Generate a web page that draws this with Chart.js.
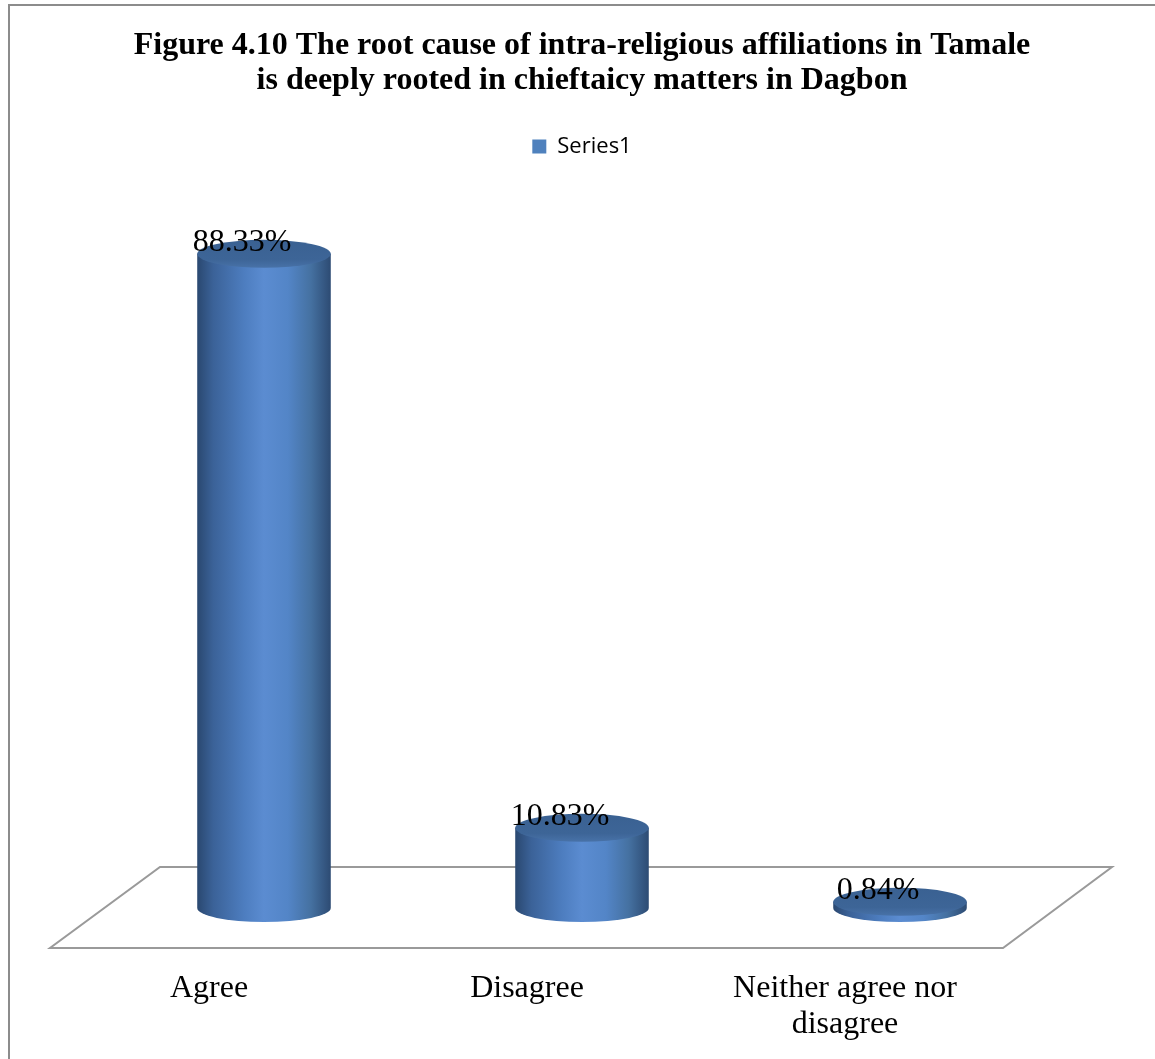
<!DOCTYPE html>
<html>
<head>
<meta charset="utf-8">
<script src="https://cdn.jsdelivr.net/npm/chart.js@4.4.1/dist/chart.umd.min.js"></script>
<style>
  html, body { margin: 0; padding: 0; background: #ffffff; }
  #wrap { position: relative; width: 1155px; height: 1059px; }
</style>
</head>
<body>
<div id="wrap"><canvas id="chart"></canvas></div>
<script>
// Survey responses (percent of respondents)
const categories = ['Agree', 'Disagree', ['Neither agree nor', 'disagree']];
const seriesName = 'Series1';
const values = [88.33, 10.83, 0.84];
const valueLabels = ['88.33%', '10.83%', '0.84%'];
const titleLines = [
  'Figure 4.10 The root cause of intra-religious affiliations in Tamale',
  'is deeply rooted in chieftaicy matters in Dagbon'
];

const SERIF = '"Liberation Serif", "Times New Roman", serif';
const FLOOR_DEPTH = 41;   // half depth of the floor plane in px
const FLOOR_SKEW = 55;    // horizontal shift between back and front edges
const X_AXIS_HEIGHT = 151;

// outer frame of the figure
const framePlugin = {
  id: 'frame',
  beforeDraw(chart) {
    const ctx = chart.ctx;
    ctx.save();
    ctx.fillStyle = '#ffffff';
    ctx.fillRect(0, 0, chart.width, chart.height);
    ctx.strokeStyle = '#8c8c8c';
    ctx.lineWidth = 2;
    ctx.strokeRect(9, 5, chart.width + 50, chart.height + 50);
    ctx.restore();
  }
};

// perspective floor under the columns
const floorPlugin = {
  id: 'floor',
  beforeDatasetsDraw(chart) {
    const { ctx, chartArea } = chart;
    const y0 = chart.scales.y.getPixelForValue(0);
    const back = y0 - FLOOR_DEPTH, front = y0 + FLOOR_DEPTH - 1;
    ctx.save();
    ctx.beginPath();
    ctx.moveTo(chartArea.left + FLOOR_SKEW, back);
    ctx.lineTo(chartArea.right + FLOOR_SKEW - 2, back);
    ctx.lineTo(chartArea.right - FLOOR_SKEW - 1, front);
    ctx.lineTo(chartArea.left - FLOOR_SKEW, front);
    ctx.closePath();
    ctx.fillStyle = '#ffffff';
    ctx.fill();
    ctx.strokeStyle = '#9a9a9a';
    ctx.lineWidth = 2;
    ctx.stroke();
    ctx.restore();
  }
};

// columns drawn as shaded cylinders from the bar elements
const cylinderPlugin = {
  id: 'cylinders',
  beforeDatasetDraw() { return false; },
  afterDatasetsDraw(chart) {
    const ctx = chart.ctx;
    const meta = chart.getDatasetMeta(0);
    meta.data.forEach((bar, i) => {
      const cx = bar.x, yTop = bar.y, yBase = bar.base;
      const rx = bar.width / 2, ry = 14;
      const left = cx - rx, right = cx + rx;

      ctx.save();
      // body
      const g = ctx.createLinearGradient(left, 0, right, 0);
      g.addColorStop(0, '#2a4870');
      g.addColorStop(0.12, '#3b6298');
      g.addColorStop(0.35, '#4d7dbf');
      g.addColorStop(0.5, '#5b8cd1');
      g.addColorStop(0.68, '#5385c7');
      g.addColorStop(0.85, '#4571a1');
      g.addColorStop(1, '#2d4b73');
      ctx.beginPath();
      ctx.moveTo(left, yTop);
      ctx.lineTo(left, yBase);
      ctx.ellipse(cx, yBase, rx, ry, 0, Math.PI, 0, true);
      ctx.lineTo(right, yTop);
      ctx.closePath();
      ctx.fillStyle = g;
      ctx.fill();

      // top cap
      const tg = ctx.createLinearGradient(0, yTop - ry, 0, yTop + ry);
      tg.addColorStop(0, '#3a6192');
      tg.addColorStop(0.7, '#3d6597');
      tg.addColorStop(1, '#4872a8');
      ctx.beginPath();
      ctx.ellipse(cx, yTop, rx, ry, 0, 0, Math.PI * 2);
      ctx.fillStyle = tg;
      ctx.fill();
      ctx.restore();

      // value label
      ctx.save();
      ctx.font = '32px ' + SERIF;
      ctx.fillStyle = '#000000';
      ctx.textAlign = 'center';
      ctx.textBaseline = 'middle';
      ctx.fillText(valueLabels[i], cx - 22, yTop - 11);
      ctx.restore();
    });
  }
};

new Chart(document.getElementById('chart'), {
  type: 'bar',
  data: {
    labels: categories,
    datasets: [{
      label: seriesName,
      data: values,
      backgroundColor: '#4F81BD',
      borderWidth: 0,
      barPercentage: 0.42,
      categoryPercentage: 1
    }]
  },
  options: {
    responsive: true,
    maintainAspectRatio: false,
    animation: false,
    layout: { padding: { left: 105, right: 96, top: 0, bottom: 0 } },
    plugins: {
      title: {
        display: true,
        text: titleLines,
        color: '#000000',
        font: { family: SERIF, size: 32, weight: 'bold', lineHeight: 1.1 },
        padding: { top: 28, bottom: 21 }
      },
      legend: {
        display: true,
        position: 'top',
        labels: {
          color: '#000000',
          font: { family: '"Open Sans", sans-serif', size: 22 },
          boxWidth: 14,
          boxHeight: 14,
          padding: 16
        }
      },
      tooltip: { enabled: false }
    },
    scales: {
      x: {
        grid: { display: false, drawTicks: false },
        border: { display: false },
        afterFit(scale) { scale.height = X_AXIS_HEIGHT; },
        ticks: {
          color: '#000000',
          font: { family: SERIF, size: 32, lineHeight: 1.125 },
          padding: 63,
          labelOffset: -55,
          maxRotation: 0,
          autoSkip: false
        }
      },
      y: {
        display: false,
        min: 0,
        max: 100
      }
    }
  },
  plugins: [framePlugin, floorPlugin, cylinderPlugin]
});
</script>
</body>
</html>
